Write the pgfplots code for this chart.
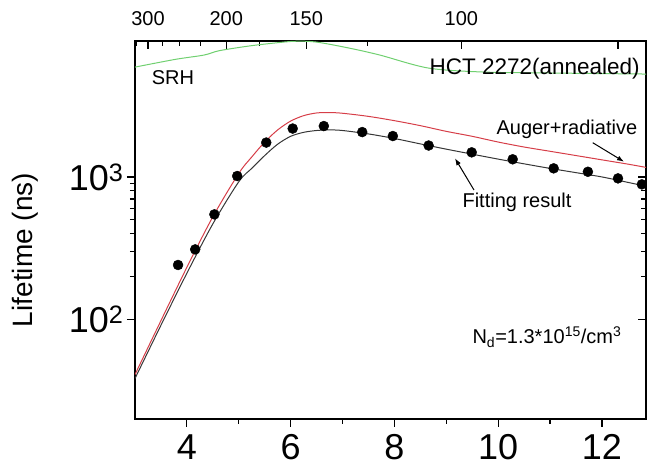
\documentclass[border=0pt]{standalone}
\usepackage{fontspec}
\setmainfont{Liberation Sans}
\usepackage{pgfplots}
\pgfplotsset{compat=1.18}
\usetikzlibrary{arrows.meta}

\definecolor{augercol}{RGB}{214,62,72}
\definecolor{srhcol}{RGB}{112,208,112}
\definecolor{fitcol}{RGB}{55,55,55}

% measured lifetimes (x = 1000/T)
\pgfplotstableread{
x      tau
3.83   241
4.16   310
4.53   546
4.97   1015
5.53   1743
6.04   2186
6.64   2276
7.38   2065
7.97   1937
8.66   1662
9.49   1488
10.28  1330
11.07  1149
11.73  1087
12.31  977
12.77  887
}\measured

% Auger + radiative limit
\pgfplotstableread{
x      tau
3.00   41
3.50   98
4.00   232
4.50   525
5.00   1059
5.25   1380
5.50   1758
5.75   2138
6.00   2466
6.25   2692
6.50   2812
6.75   2831
7.00   2799
7.50   2661
8.00   2483
8.50   2291
9.00   2089
9.50   1928
10.00  1758
10.50  1622
11.00  1514
11.50  1413
12.00  1318
12.50  1230
12.85  1167
}\auger

% fitting result
\pgfplotstableread{
x      tau
3.00   38.5
3.50   91
4.00   211
4.50   468
5.00   925
5.25   1148
5.50   1413
5.75   1698
6.00   1928
6.25   2056
6.50   2118
6.75   2138
7.00   2118
7.50   2004
8.00   1862
8.50   1706
9.00   1567
9.50   1445
10.00  1334
10.50  1236
11.00  1148
11.50  1072
12.00  1000
12.50  916
12.85  861
}\fit

% SRH lifetime
\pgfplotstableread{
x      tau
3.00   5900
3.78   6690
4.33   7170
4.62   7690
5.20   8300
5.68   8700
6.08   8960
6.49   8850
7.12   8035
7.72   7170
8.66   5807
9.74   5445
11.09  5360
12.85  5275
}\srh

\begin{document}
\begin{tikzpicture}

% top temperature scale and right-hand ticks
\begin{axis}[
  at={(0pt,0pt)}, anchor=south west, scale only axis,
  width=511pt, height=378pt,
  xmin=3, xmax=12.85, ymode=log, ymin=20, ymax=9000,
  axis line style={line width=1.4pt},
  major tick length=8pt, minor tick length=5pt,
  tick style={black, line width=1.2pt},
  /pgf/number format/assume math mode=true,
  xtick pos=right, ytick pos=right,
  xticklabel pos=right,
  xtick align=inside, ytick align=inside,
  xtick={3.25,4.76,6.30,9.29,12.31},
  xticklabels={300,200,150,100,},
  minor xtick={3.018,3.524,3.854,4.257,5.407,7.478},
  ytick={100,1000}, yticklabels={,},
  yticklabel style={overlay},
  ticklabel style={font=\fontsize{20}{24}\selectfont},
  xticklabel style={yshift=12pt},
]
\end{axis}

\begin{axis}[
  at={(0pt,0pt)}, anchor=south west, scale only axis,
  width=511pt, height=378pt,
  xmin=3, xmax=12.85, ymode=log, ymin=20, ymax=9000,
  axis line style={line width=1.4pt},
  major tick length=8pt, minor tick length=5pt,
  tick style={black, line width=1.2pt},
  /pgf/number format/assume math mode=true,
  xtick pos=left, ytick pos=left,
  xtick align=outside, ytick align=outside,
  xtick={4,6,8,10,12}, minor x tick num=1,
  ytick={100,1000},
  yticklabels={10\textsuperscript{2},10\textsuperscript{3}},
  ticklabel style={font=\fontsize{36}{40}\selectfont},
  xticklabel style={yshift=-4pt},
  ylabel={Lifetime (ns)},
  ylabel style={font=\fontsize{28}{32}\selectfont, at={(axis description cs:-0.214,0.447)}, anchor=center},
]
\addplot[srhcol, line width=1pt, smooth] table[x=x,y=tau] {\srh};
\addplot[fitcol, line width=1pt, smooth] table[x=x,y=tau] {\fit};
\addplot[only marks, mark=*, mark size=5pt, black] table[x=x,y=tau] {\measured};
\addplot[augercol, line width=1pt, smooth] table[x=x,y=tau] {\auger};
\end{axis}

\begin{scope}[font=\fontsize{20}{24}\selectfont]
\node[anchor=center] at (38pt,341pt) {SRH};
\node[anchor=base west, font=\fontsize{22.5}{26}\selectfont] at (291pt,344pt) {HCT 2272(annealed)};
\node[anchor=base west] at (358pt,284pt) {Auger+radiative};
\node[anchor=base west] at (324pt,211pt) {Fitting result};
\node[anchor=base west] at (334pt,75pt) {N\textsubscript{d}=1.3*10\textsuperscript{15}/cm\textsuperscript{3}};
\end{scope}
\draw[line width=1pt, -{Latex[length=7pt,width=5pt]}] (457.7pt,276.3pt) -- (489pt,257.3pt);
\draw[line width=1pt, -{Latex[length=7pt,width=5pt]}] (339pt,229pt) -- (320pt,260.7pt);

% page margins around the frame
\path (-135pt,-51pt) (512pt,419pt);
\end{tikzpicture}
\end{document}
